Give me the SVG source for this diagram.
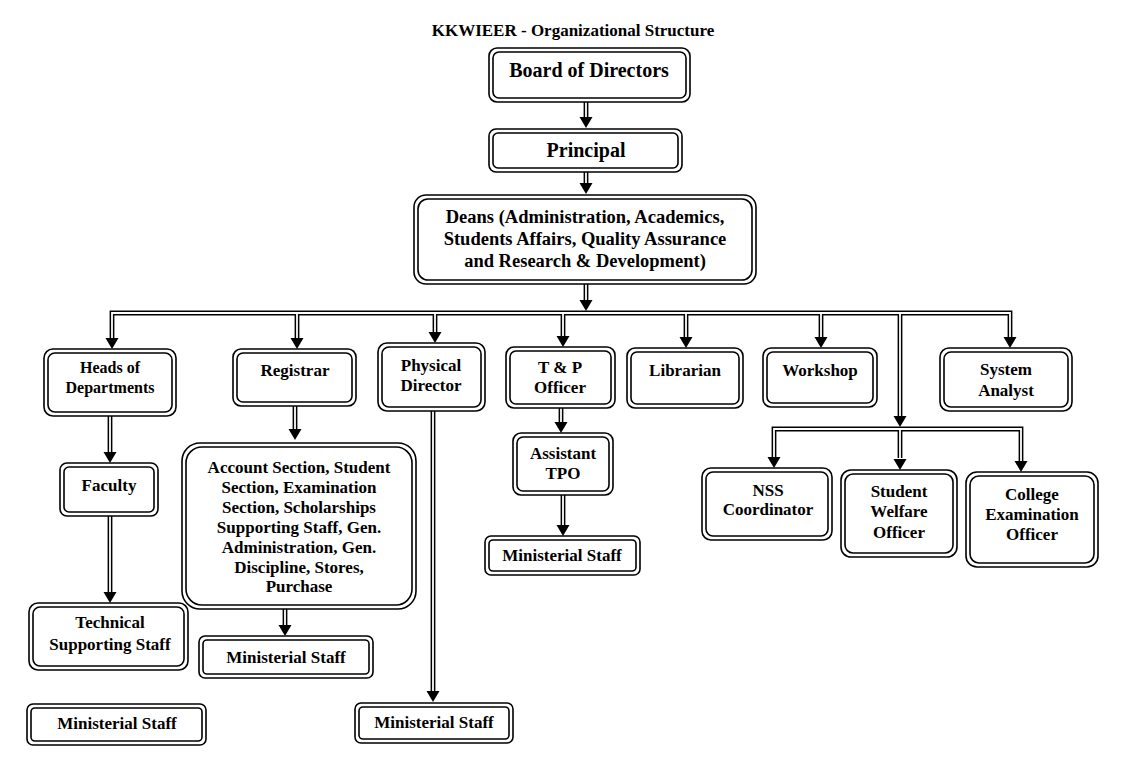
<svg xmlns="http://www.w3.org/2000/svg" width="1129" height="769" viewBox="0 0 1129 769">
<style>
text{font-family:"Liberation Serif","Times New Roman",serif;font-weight:bold;fill:#000;text-anchor:middle}
.t{font-size:17px}
.h{font-size:16px}
.big{font-size:20px}
.mid{font-size:18.5px}
.o{fill:#fff;stroke:#000;stroke-width:1.6}
.i{fill:none;stroke:#000;stroke-width:1.6}
.cb{fill:none;stroke:#000;stroke-width:4.8}
.cw{fill:none;stroke:#fff;stroke-width:1.8}
</style>
<defs>
<path id="ah" d="M-6.5,-11 L6.5,-11 L0,0 Z" fill="#000"/>
<path id="cn" d="M586,100 V117 M586,170 V183 M586,282 V300 M112,338 V313 H1010 V338 M297,313 V338 M435,313 V332 M563,313 V336 M686,313 V337 M821,313 V337 M900,313 V416 M774,457 V429 H1021 V461 M900,429 V458 M110,415 V452 M110,514 V592 M295,404 V429 M285,607 V625 M433,409 V691 M561,406 V422 M563,494 V525"/>
</defs>
<text x="573" y="36" style="font-size:17px">KKWIEER - Organizational Structure</text>
<g id="connectors">
<use href="#cn" class="cb"/>
<use href="#cn" class="cw"/>
<use href="#ah" transform="translate(586,128)"/>
<use href="#ah" transform="translate(586,194)"/>
<use href="#ah" transform="translate(586,311)"/>
<use href="#ah" transform="translate(112,349)"/>
<use href="#ah" transform="translate(297,349)"/>
<use href="#ah" transform="translate(435,343)"/>
<use href="#ah" transform="translate(563,347)"/>
<use href="#ah" transform="translate(686,348)"/>
<use href="#ah" transform="translate(821,348)"/>
<use href="#ah" transform="translate(1010,348)"/>
<use href="#ah" transform="translate(900,427)"/>
<use href="#ah" transform="translate(774,468)"/>
<use href="#ah" transform="translate(900,470)"/>
<use href="#ah" transform="translate(1021,472)"/>
<use href="#ah" transform="translate(110,463)"/>
<use href="#ah" transform="translate(110,603)"/>
<use href="#ah" transform="translate(295,440)"/>
<use href="#ah" transform="translate(285,636)"/>
<use href="#ah" transform="translate(433,702)"/>
<use href="#ah" transform="translate(561,433)"/>
<use href="#ah" transform="translate(563,536)"/>
</g>
<g id="board"><rect class="o" x="489" y="48" width="201" height="54" rx="8"/><rect class="i" x="493" y="52" width="193" height="46" rx="6"/><text class="big" x="589" y="77">Board of Directors</text></g>
<g id="principal"><rect class="o" x="489" y="129" width="193" height="43" rx="7"/><rect class="i" x="493" y="133" width="185" height="35" rx="5"/><text class="big" x="586" y="157">Principal</text></g>
<g id="deans"><rect class="o" x="414" y="195" width="342" height="89" rx="12"/><rect class="i" x="418" y="199" width="334" height="81" rx="10"/><text class="mid" x="585" y="223">Deans (Administration, Academics,</text><text class="mid" x="585" y="245">Students Affairs, Quality Assurance</text><text class="mid" x="585" y="267">and Research &amp; Development)</text></g>
<g id="hod"><rect class="o" x="44" y="349" width="132" height="67" rx="9"/><rect class="i" x="48" y="353" width="124" height="59" rx="7"/><text class="h" x="110" y="373">Heads of</text><text class="h" x="110" y="393">Departments</text></g>
<g id="registrar"><rect class="o" x="233" y="349" width="123" height="57" rx="8"/><rect class="i" x="237" y="353" width="115" height="49" rx="6"/><text class="t" x="295" y="376">Registrar</text></g>
<g id="physical"><rect class="o" x="378" y="343" width="107" height="68" rx="9"/><rect class="i" x="382" y="347" width="99" height="60" rx="7"/><text class="t" x="431" y="371">Physical</text><text class="t" x="431" y="391">Director</text></g>
<g id="tp"><rect class="o" x="506" y="347" width="109" height="61" rx="8"/><rect class="i" x="510" y="351" width="101" height="53" rx="6"/><text class="t" x="560" y="373">T &amp; P</text><text class="t" x="560" y="393">Officer</text></g>
<g id="librarian"><rect class="o" x="627" y="348" width="116" height="60" rx="8"/><rect class="i" x="631" y="352" width="108" height="52" rx="6"/><text class="t" x="685" y="376">Librarian</text></g>
<g id="workshop"><rect class="o" x="763" y="348" width="114" height="59" rx="8"/><rect class="i" x="767" y="352" width="106" height="51" rx="6"/><text class="t" x="820" y="376">Workshop</text></g>
<g id="sysanalyst"><rect class="o" x="940" y="348" width="132" height="63" rx="9"/><rect class="i" x="944" y="352" width="124" height="55" rx="7"/><text class="t" x="1006" y="375">System</text><text class="t" x="1006" y="396">Analyst</text></g>
<g id="nss"><rect class="o" x="702" y="468" width="130" height="72" rx="9"/><rect class="i" x="706" y="472" width="122" height="64" rx="7"/><text class="t" x="768" y="496">NSS</text><text class="t" x="768" y="515">Coordinator</text></g>
<g id="swo"><rect class="o" x="841" y="470" width="116" height="87" rx="10"/><rect class="i" x="845" y="474" width="108" height="79" rx="8"/><text class="t" x="899" y="497">Student</text><text class="t" x="899" y="517">Welfare</text><text class="t" x="899" y="538">Officer</text></g>
<g id="ceo"><rect class="o" x="966" y="472" width="132" height="95" rx="11"/><rect class="i" x="970" y="476" width="124" height="87" rx="9"/><text class="t" x="1032" y="500">College</text><text class="t" x="1032" y="520">Examination</text><text class="t" x="1032" y="540">Officer</text></g>
<g id="faculty"><rect class="o" x="60" y="463" width="98" height="53" rx="7"/><rect class="i" x="64" y="467" width="90" height="45" rx="5"/><text class="t" x="109" y="491">Faculty</text></g>
<g id="technical"><rect class="o" x="29" y="603" width="159" height="67" rx="9"/><rect class="i" x="33" y="607" width="151" height="59" rx="7"/><text class="t" x="110" y="628">Technical</text><text class="t" x="110" y="650">Supporting Staff</text></g>
<g id="ministerial1"><rect class="o" x="27" y="704" width="179" height="41" rx="6"/><rect class="i" x="31" y="708" width="171" height="33" rx="4"/><text class="t" x="117" y="729">Ministerial Staff</text></g>
<g id="sections"><rect class="o" x="182" y="443" width="234" height="166" rx="18"/><rect class="i" x="186" y="447" width="226" height="158" rx="16"/><text class="t" x="299" y="473">Account Section, Student</text><text class="t" x="299" y="493">Section, Examination</text><text class="t" x="299" y="513">Section, Scholarships</text><text class="t" x="299" y="533">Supporting Staff, Gen.</text><text class="t" x="299" y="553">Administration, Gen.</text><text class="t" x="299" y="573">Discipline, Stores,</text><text class="t" x="299" y="592">Purchase</text></g>
<g id="ministerial2"><rect class="o" x="199" y="636" width="174" height="42" rx="6"/><rect class="i" x="203" y="640" width="166" height="34" rx="4"/><text class="t" x="286" y="663">Ministerial Staff</text></g>
<g id="ministerial3"><rect class="o" x="355" y="703" width="158" height="40" rx="6"/><rect class="i" x="359" y="707" width="150" height="32" rx="4"/><text class="t" x="434" y="728">Ministerial Staff</text></g>
<g id="asstpo"><rect class="o" x="513" y="433" width="100" height="62" rx="8"/><rect class="i" x="517" y="437" width="92" height="54" rx="6"/><text class="t" x="563" y="459">Assistant</text><text class="t" x="563" y="479">TPO</text></g>
<g id="ministerial4"><rect class="o" x="485" y="536" width="155" height="39" rx="6"/><rect class="i" x="489" y="540" width="147" height="31" rx="4"/><text class="t" x="562" y="561">Ministerial Staff</text></g>
</svg>
